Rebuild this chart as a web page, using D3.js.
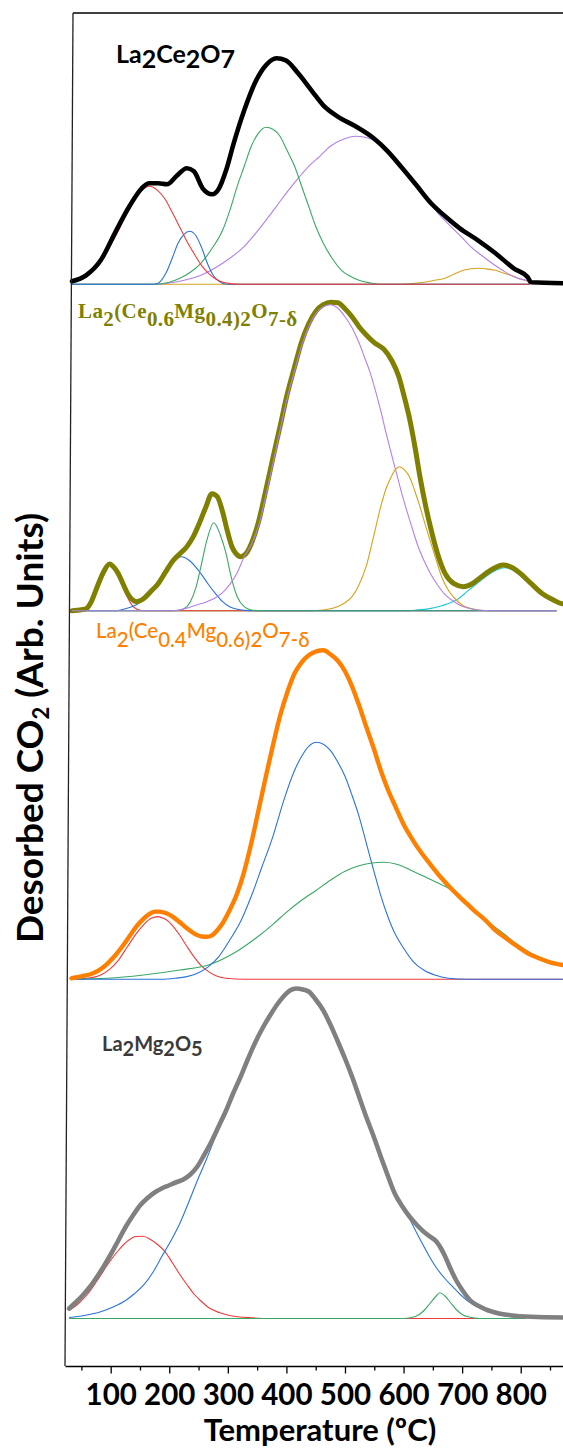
<!DOCTYPE html>
<html>
<head>
<meta charset="utf-8">
<script src="https://cdn.jsdelivr.net/npm/d3@7"></script>
<style>
body { margin: 0; background: #fff; }
svg { display: block; }
</style>
</head>
<body>
<svg id="chart"></svg>
<script>
// temperature ticks
var majorTicks = [100, 200, 300, 400, 500, 600, 700, 800];
var minorTicks = [50, 150, 250, 350, 450, 550, 650, 750, 850];

// ---- La2Ce2O7 : [temperature, signal]
var p1Total = [[34,3],[58,9],[83,24],[107,51],[132,78],[153,96],[166,101],[181,101],[196,100],[212,108],[230,116],[242,113],[257,96],[273,90],[285,96],[297,114],[310,141],[328,174],[346,201],[365,219],[383,226],[399,224],[420,211],[444,193],[463,179],[487,168],[518,158],[549,146],[573,133],[598,116],[622,99],[647,81],[671,68],[696,56],[727,44],[757,31],[788,16],[812,7],[818,2],[872,1]];
var p1Red = [[34,3],[60,10],[85,25],[110,50],[130,74],[145,88],[155,95],[166,98],[180,94],[193,85],[205,72],[218,57],[230,43],[242,31],[255,19],[267,11],[280,5],[295,1.5],[320,0],[815,0]];
var p1Blue = [[34,0],[175,0],[185,3],[195,12],[205,26],[215,41],[225,50],[235,53],[245,49],[255,37],[265,21],[275,9],[285,3],[298,0],[815,0]];
var p1Green = [[34,0],[175,0],[200,2],[218,6],[236,12],[254,21],[272,35],[291,54],[304,75],[316,98],[328,118],[340,138],[352,151],[365,157],[377,155],[389,148],[401,134],[414,118],[426,98],[438,78],[450,58],[463,41],[478,26],[494,14],[509,8],[524,4],[542,1.5],[561,0],[815,0]];
var p1Purple = [[34,0],[175,0],[218,3],[254,9],[291,21],[328,38],[346,50],[365,64],[383,78],[402,93],[420,106],[438,118],[457,128],[475,138],[497,145],[518,148],[534,147],[549,144],[567,137],[586,126],[604,113],[622,99],[641,85],[659,71],[677,60],[696,49],[714,38],[733,29],[751,21],[769,14],[790,7],[812,3],[815,0]];
var p1Gold = [[34,0],[586,0],[610,0.5],[635,2],[653,4],[671,6],[686,10],[702,14],[715,15.5],[727,16],[740,15.5],[757,14],[772,11],[788,8],[800,5],[812,3],[815,0]];

// ---- La2(Ce0.6Mg0.4)2O7-d
var p2Total = [[34,0],[50,1],[58,2],[66,8],[77,24],[88,39],[98,46.7],[106,43],[113,37],[121,27],[129,17],[137,11],[144,9],[150,10],[156,12],[168,19],[181,27],[193,38],[205,49],[218,57],[230,64],[241,74],[251,87],[262,103],[273,117],[282,114],[291,99],[299,80],[307,64],[314,57],[322,54],[331,57],[340,67],[352,88],[365,121],[377,153],[389,184],[402,218],[414,244],[426,269],[438,287],[451,300],[463,306],[476,308.5],[488,308],[500,302],[512,294],[524,284],[536,276],[550,268],[567,261],[580,250],[592,234],[602,212],[611,190],[620,162],[628,134],[638,104],[647,81],[658,57],[671,37],[686,27],[702,24],[717,27],[733,34],[750,41],[770,45.7],[786,43],[800,37],[818,27],[837,17],[855,11],[868,7.3],[872,7]];
var p2Red = [[34,0],[60,1],[66,7],[77,23],[88,38],[98,46],[106,42],[113,35],[121,24],[129,13],[137,5],[145,1.5],[155,0],[861,0]];
var p2Blue = [[34,0],[110,0],[125,2],[144,6],[163,15],[181,27],[195,40],[208,50],[221,54],[235,50],[254,37],[266,27],[279,17],[291,9],[303,4],[316,1.5],[328,0.5],[345,0],[861,0]];
var p2Green = [[34,0],[211,0],[225,2],[236,9],[246,24],[254,44],[264,70],[276,88],[287,76],[297,57],[306,33],[316,14],[328,4],[340,0.7],[355,0],[861,0]];
var p2Purple = [[34,0],[205,0],[230,2.5],[248,6],[264,9],[279,13],[291,18],[303,26],[316,38],[328,54],[340,66],[352,84],[365,115],[378,150],[389,180],[402,214],[414,240],[426,265],[438,284],[450,297],[463,304],[475,306],[487,303],[500,294],[512,283],[524,268],[533,254],[543,238],[552,220],[561,200],[570,178],[580,155],[589,135],[598,115],[607,97],[616,80],[625,64],[635,50],[647,36],[659,25],[671,16],[684,10],[696,5.5],[708,3],[720,1.5],[733,0.5],[760,0],[861,0]];
var p2Gold = [[34,0],[440,0],[463,0.7],[487,4],[500,8],[512,14],[524,26],[536,44],[548,72],[561,104],[570,122],[579,134],[586,141],[593,144],[601,141],[610,134],[619,120],[628,104],[637,86],[647,67],[656,50],[665,34],[677,20],[690,10.7],[702,5],[714,2.3],[730,0.5],[760,0],[861,0]];
var p2Cyan = [[34,0],[600,0],[620,0.5],[647,2.3],[665,5],[684,9],[696,13],[708,19],[727,28],[745,36],[760,41],[772,43],[785,41],[800,35],[815,27],[830,20],[845,13],[861,8]];

// ---- La2(Ce0.4Mg0.6)2O7-d
var p3Total = [[33,1],[50,3],[70,6],[85,11],[95,16],[108,24],[120,33],[132,43],[144,53],[155,60],[165,65],[176,67.7],[184,67.7],[195,66],[205,63],[218,57],[230,51],[242,46],[254,43],[264,42.5],[273,44],[282,49],[291,56],[303,69],[316,86],[328,108],[340,136],[352,168],[365,203],[377,234],[389,263],[401,286],[414,306],[426,317],[438,324],[451,328],[463,329],[475,325],[487,319],[500,308],[512,293],[524,274],[536,253],[549,231],[561,209],[573,190],[586,173],[600,155],[616,139],[631,126],[647,114],[665,101],[684,89],[702,79],[720,69],[740,59],[757,49],[775,41],[794,33],[812,26],[831,21],[850,17],[872,14.3]];
var p3Red = [[33,0],[60,1],[83,4.3],[98,10],[113,19],[128,32],[144,46],[157,55],[169,61],[181,62.7],[190,61],[199,57.7],[208,52],[218,44],[230,33],[242,22.7],[254,14],[267,7.7],[282,3],[297,1],[328,0],[872,0]];
var p3Blue = [[33,0],[187,0],[210,1],[230,2.7],[248,6],[267,12.7],[285,23],[303,39],[322,58],[340,83],[358,112],[377,143],[395,178],[414,209],[426,223],[438,233],[452,237],[463,235],[475,229],[487,218],[500,203],[512,184],[524,163],[536,137],[549,109],[561,84],[573,63],[585,46],[598,33],[616,18],[635,9],[655,4],[677,1],[708,0],[872,0]];
var p3Green = [[33,0],[95,1],[156,4.3],[218,9.3],[267,14.3],[310,26],[352,43],[377,55],[402,68],[426,79],[451,89],[475,99],[500,108],[521,113],[543,116],[567,117],[585,115.5],[598,113],[616,108],[635,103],[656,97],[677,91],[700,80],[720,69],[745,57],[770,46],[794,35],[818,26],[845,19],[872,14.3]];

// ---- La2Mg2O5
var p4Total = [[29,10],[40,16],[52,23],[65,32],[77,42],[89,53],[101,65],[113,78],[126,92],[138,103],[150,113],[162,120],[175,126],[187,130],[199,133],[211,136],[224,139],[236,144],[248,152],[260,164],[273,178],[285,193],[297,208],[309,225],[322,242],[334,259],[346,275],[358,289],[371,302],[383,313],[395,322],[406,328],[417,330],[428,329],[438,327],[450,319],[463,308],[475,294],[487,278],[500,260],[512,242],[524,222],[536,202],[549,182],[561,162],[573,143],[585,125],[598,112],[610,102],[622,94],[634,87],[645,82],[656,77],[664,70],[671,62],[680,50],[690,38],[702,27],[714,18],[730,12],[745,8],[763,5],[782,3.3],[818,1.7],[872,1]];
var p4Red = [[29,8],[45,15],[60,24],[77,38],[95,54],[113,68],[130,78],[143,82],[155,82.3],[168,79],[180,74],[193,66.7],[205,56],[218,44],[230,34],[243,24],[255,17],[267,11],[285,6],[303,3],[320,1.5],[340,0.7],[370,0],[809,0]];
var p4Blue = [[29,1],[55,3],[83,6.7],[105,11.7],[126,18.3],[141,25],[156,33.3],[172,46],[187,61.7],[203,78],[218,95],[233,116],[248,138],[264,160],[279,182],[297,205],[309,223],[322,241],[346,274],[371,301],[395,321],[417,329],[438,326],[463,307],[487,277],[512,241],[536,201],[561,161],[585,125],[610,100],[623,85],[635,71.7],[647,59],[659,48.3],[672,39],[684,31.7],[696,24.5],[708,18.3],[720,13.5],[733,10],[750,6],[770,3],[790,1.5],[809,0.7]];
var p4Green = [[29,0],[600,0],[620,2],[635,8],[645,15],[655,22],[662,25.7],[670,23],[680,16],[690,9],[700,4],[712,1.5],[730,0],[809,0]];

// panel labels (text pieces, 1 = lowered)
var label1 = [["La"],["2",1],["Ce"],["2",1],["O"],["7",1]];
var label2 = [["La"],["2",1],["(Ce"],["0.6",1],["Mg"],["0.4)2",1],["O"],["7-\u03b4",1]];
var label3 = [["La"],["2",1],["(Ce"],["0.4",1],["Mg"],["0.6)",1],["2",1],["O"],["7-\u03b4",1]];
var label4 = [["La"],["2",1],["Mg"],["2",1],["O"],["5",1]];

var W = 563, H = 1450;
var svg = d3.select("#chart").attr("width", W).attr("height", H);

var xScale = d3.scaleLinear().domain([22, 872.2]).range([65, 563]);

var colors = {red: "#f03a3a", blue: "#2b73dc", green: "#3aa865", purple: "#b380ea", gold: "#d6a21c", cyan: "#22c8d8"};

// each component: [data, colour, drawn above the total curve]
var panels = [
    {base: 284.3, total: p1Total, color: "#000000", width: 4.6,
     comps: [[p1Gold, colors.gold], [p1Purple, colors.purple], [p1Green, colors.green], [p1Blue, colors.blue], [p1Red, colors.red]],
     label: label1, lx: 116, ly: 63, sub: 5, font: "Lato, sans-serif", size: 25, weight: 700, spacing: 0, lcolor: "#000"},
    {base: 610.7, total: p2Total, color: "#808000", width: 5,
     comps: [[p2Cyan, colors.cyan], [p2Gold, colors.gold], [p2Red, colors.red], [p2Blue, colors.blue], [p2Green, colors.green], [p2Purple, colors.purple, true]],
     label: label2, lx: 78, ly: 318, sub: 8, font: "'Liberation Serif', serif", size: 21, weight: 700, spacing: 0.4, lcolor: "#808000"},
    {base: 979.3, total: p3Total, color: "#ff8000", width: 4.4,
     comps: [[p3Red, colors.red], [p3Green, colors.green], [p3Blue, colors.blue]],
     label: label3, lx: 96, ly: 638, sub: 9, font: "Lato, sans-serif", size: 20.5, weight: 500, spacing: 0, lcolor: "#ff8000"},
    {base: 1318.5, total: p4Total, color: "#808080", width: 4.6,
     comps: [[p4Red, colors.red], [p4Blue, colors.blue], [p4Green, colors.green]],
     label: label4, lx: 102, ly: 1051, sub: 5, font: "Lato, sans-serif", size: 20, weight: 700, spacing: 0, lcolor: "#3a3a3a"}
];

panels.forEach(function(p) {
    var yScale = d3.scaleLinear().domain([0, 330]).range([p.base, p.base - 330]);
    var line = d3.line()
        .x(function(d) { return xScale(d[0]); })
        .y(function(d) { return yScale(d[1]); })
        .curve(d3.curveMonotoneX);

    var g = svg.append("g");

    var drawComps = function(top) {
        p.comps.filter(function(c) { return !!c[2] === top; }).forEach(function(c) {
            g.append("path")
                .datum(c[0])
                .attr("fill", "none")
                .attr("stroke", c[1])
                .attr("stroke-width", 1.1)
                .attr("d", line);
        });
    };
    drawComps(false);
    g.append("path")
        .datum(p.total)
        .attr("fill", "none")
        .attr("stroke", p.color)
        .attr("stroke-width", p.width)
        .attr("stroke-linejoin", "round")
        .attr("stroke-linecap", "round")
        .attr("d", line);
    drawComps(true);

    var t = g.append("text")
        .attr("x", p.lx).attr("y", p.ly)
        .attr("font-family", p.font)
        .attr("font-size", p.size)
        .attr("font-weight", p.weight)
        .attr("letter-spacing", p.spacing)
        .attr("fill", p.lcolor);
    p.label.forEach(function(part) {
        t.append("tspan")
            .attr("y", part[1] ? p.ly + p.sub : p.ly)
            .text(part[0]);
    });
});

// frame: top line and the slightly slanted left line
svg.append("line").attr("x1", 73).attr("y1", 13).attr("x2", 563).attr("y2", 13)
    .attr("stroke", "#000").attr("stroke-width", 1.5);
svg.append("line").attr("x1", 73).attr("y1", 13).attr("x2", 65).attr("y2", 1366)
    .attr("stroke", "#222").attr("stroke-width", 1.3);

// bottom axis
var axisY = 1366;
var minorAxis = d3.axisBottom(xScale).tickValues(minorTicks).tickSize(4.5).tickFormat("").tickSizeOuter(0);
svg.append("g").attr("transform", "translate(0," + axisY + ")").call(minorAxis)
    .call(function(g) { g.select(".domain").remove(); })
    .selectAll("line").attr("stroke", "#000").attr("stroke-width", 1.3);

var xAxis = d3.axisBottom(xScale).tickValues(majorTicks).tickSize(7.5).tickSizeOuter(0).tickFormat(d3.format("d"));
var ax = svg.append("g").attr("transform", "translate(0," + axisY + ")").call(xAxis);
ax.select(".domain").attr("stroke", "#000").attr("stroke-width", 1.5);
ax.selectAll(".tick line").attr("stroke", "#000").attr("stroke-width", 1.3);
ax.selectAll(".tick text")
    .attr("y", 38.5).attr("dy", null)
    .attr("fill", "#000")
    .attr("font-family", "Lato, sans-serif")
    .attr("font-weight", 700)
    .attr("font-size", 29.5);

// axis titles
svg.append("text")
    .attr("x", 320).attr("y", 1441)
    .attr("text-anchor", "middle")
    .attr("font-family", "Lato, sans-serif")
    .attr("font-weight", 700)
    .attr("font-size", 31)
    .text("Temperature (\u00baC)");

var yt = svg.append("text")
    .attr("transform", "translate(43,728) rotate(-90)")
    .attr("text-anchor", "middle")
    .attr("font-family", "Lato, sans-serif")
    .attr("font-weight", 700)
    .attr("font-size", 37);
yt.append("tspan").text("Desorbed CO");
yt.append("tspan").attr("font-size", 22).attr("dy", 6).text("2");
yt.append("tspan").attr("dy", -6).text(" (Arb. Units)");
</script>
</body>
</html>
